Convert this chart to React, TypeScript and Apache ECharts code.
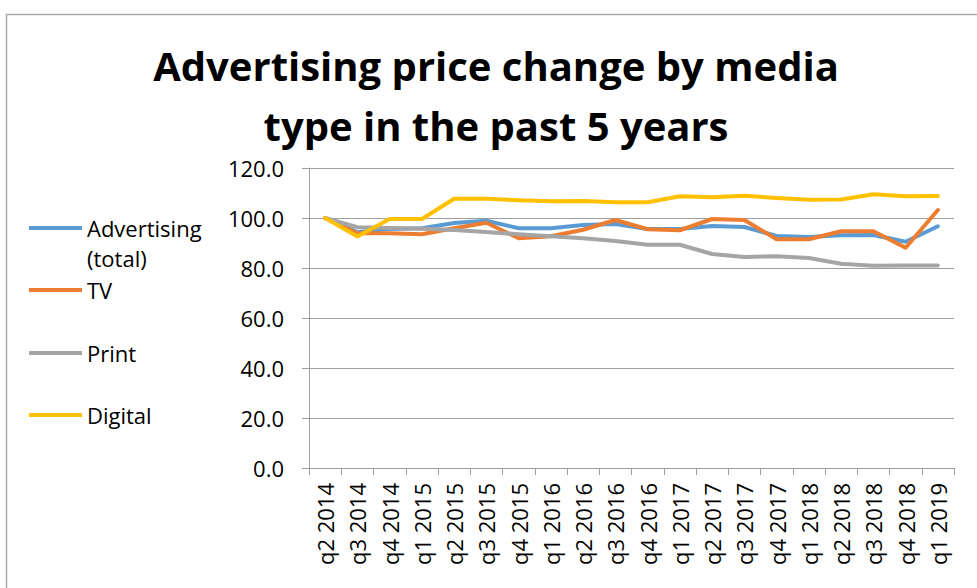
import React, { useEffect, useRef } from "react";
import * as echarts from "echarts";

const categories = [
  "q2 2014", "q3 2014", "q4 2014", "q1 2015", "q2 2015", "q3 2015", "q4 2015",
  "q1 2016", "q2 2016", "q3 2016", "q4 2016", "q1 2017", "q2 2017", "q3 2017",
  "q4 2017", "q1 2018", "q2 2018", "q3 2018", "q4 2018", "q1 2019",
];
const advertisingTotal = [100, 94.3, 95.6, 95.9, 98.0, 98.9, 95.9, 95.9, 97.2, 97.6, 95.6, 95.6, 96.8, 96.4, 92.8, 92.4, 93.1, 93.2, 90.5, 96.7];
const tv = [100, 93.9, 93.9, 93.5, 95.9, 98.1, 91.9, 92.7, 95.3, 99.2, 95.5, 95.1, 99.6, 99.2, 91.5, 91.5, 94.7, 94.7, 88.1, 103.2];
const print = [100, 96.3, 96.0, 95.7, 95.2, 94.4, 93.5, 92.7, 91.9, 90.8, 89.3, 89.3, 85.6, 84.4, 84.7, 84.0, 81.7, 80.9, 81.0, 81.0];
const digital = [100, 92.6, 99.6, 99.6, 107.7, 107.7, 107.1, 106.7, 106.8, 106.3, 106.3, 108.7, 108.3, 108.9, 108.0, 107.3, 107.4, 109.5, 108.7, 108.8];
const yTicks = { min: 0, max: 120, interval: 20 };

const seriesNames = ["Advertising (total)", "TV", "Print", "Digital"];
const seriesData = [advertisingTotal, tv, print, digital];
const colors = ["#5b9bd5", "#ed7d31", "#a5a5a5", "#ffc000"];

const FONT = "'Open Sans', sans-serif";

export default function App() {
  const ref = useRef<HTMLDivElement>(null);
  useEffect(() => {
    if (!ref.current) return;
    const chart = echarts.init(ref.current, null, { renderer: "svg" });
    const legendCenters = [228, 290, 353, 415];
    const legendBase = {
      orient: "vertical",
      left: 29,
      padding: 0,
      icon: "rect",
      itemWidth: 53,
      itemHeight: 4,
      itemGap: 0,
      selectedMode: false,
      textStyle: { fontFamily: FONT, fontSize: 22, color: "#000", lineHeight: 26 },
    };
    chart.setOption({
      animation: false,
      backgroundColor: "#fff",
      color: colors,
      title: {
        text: "Advertising price change by media\ntype in the past 5 years",
        left: 496,
        top: 35,
        padding: 0,
        textAlign: "center",
        textStyle: {
          fontFamily: FONT,
          fontSize: 40,
          fontWeight: "bold",
          color: "#000",
          lineHeight: 60,
        },
      },
      legend: seriesNames.map((n, i) => ({
        ...legendBase,
        top: legendCenters[i] - 13,
        data: [n],
        formatter: (name: string) => (name === "Advertising (total)" ? "Advertising" : name),
      })),
      graphic: [
        {
          type: "rect",
          shape: { x: 6.5, y: 14.5, width: 1000, height: 600 },
          style: { fill: "none", stroke: "#ababab", lineWidth: 1.5 },
          silent: true,
        },
        {
          type: "text",
          left: 87,
          top: 247,
          style: { text: "(total)", font: `22px ${FONT}`, fill: "#000" },
        },
      ],
      grid: { left: 309, right: 23, top: 168, bottom: 120, containLabel: false },
      xAxis: {
        type: "category",
        data: categories,
        boundaryGap: true,
        axisLine: { show: true, lineStyle: { color: "#9e9e9e", width: 1 } },
        axisTick: { show: true, length: 7, alignWithLabel: false, lineStyle: { color: "#9e9e9e" } },
        axisLabel: {
          rotate: 90,
          interval: 0,
          margin: 15,
          fontFamily: FONT,
          fontSize: 22,
          color: "#000",
        },
        splitLine: { show: false },
      },
      yAxis: {
        type: "value",
        min: yTicks.min,
        max: yTicks.max,
        interval: yTicks.interval,
        axisLine: { show: true, lineStyle: { color: "#9e9e9e", width: 1 } },
        axisTick: { show: true, length: 7, lineStyle: { color: "#9e9e9e" } },
        axisLabel: {
          margin: 25,
          fontFamily: FONT,
          fontSize: 22,
          color: "#000",
          formatter: (v: number) => v.toFixed(1),
        },
        splitLine: { show: true, lineStyle: { color: "#9e9e9e", width: 1 } },
      },
      series: seriesNames.map((n, i) => ({
        name: n,
        type: "line",
        data: seriesData[i],
        showSymbol: false,
        symbol: "none",
        smooth: false,
        lineStyle: { width: 4, color: colors[i], join: "round", cap: "round" },
        itemStyle: { color: colors[i] },
      })),
    });
    return () => chart.dispose();
  }, []);
  return (
    <div
      ref={ref}
      style={{ position: "absolute", left: 0, top: 0, width: 977, height: 588 }}
    />
  );
}
